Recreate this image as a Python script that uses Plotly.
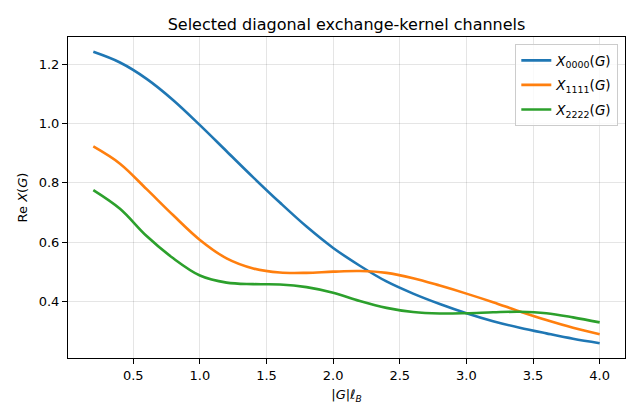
import plotly.graph_objects as go

x_vals = [0.2, 0.4, 0.6, 0.8, 1.0, 1.2, 1.4, 1.6, 1.8, 2.0, 2.2, 2.4, 2.6, 2.8, 3.0, 3.2, 3.4, 3.6, 3.8, 4.0]
x0000 = [1.241, 1.205, 1.150, 1.078, 0.994, 0.906, 0.818, 0.733, 0.652, 0.580, 0.520, 0.467, 0.426, 0.391, 0.360, 0.333, 0.311, 0.292, 0.274, 0.259]
x1111 = [0.922, 0.864, 0.778, 0.690, 0.607, 0.545, 0.511, 0.497, 0.496, 0.500, 0.502, 0.496, 0.478, 0.453, 0.426, 0.397, 0.366, 0.337, 0.311, 0.289]
x2222 = [0.775, 0.712, 0.620, 0.545, 0.487, 0.463, 0.458, 0.457, 0.448, 0.429, 0.401, 0.378, 0.364, 0.359, 0.360, 0.363, 0.365, 0.360, 0.346, 0.329]

names = ["<i>X</i><sub>0000</sub>(<i>G</i>)", "<i>X</i><sub>1111</sub>(<i>G</i>)", "<i>X</i><sub>2222</sub>(<i>G</i>)"]
colors = ["#1f77b4", "#ff7f0e", "#2ca02c"]

fig = go.Figure()
for i, (ys, nm, c) in enumerate(zip([x0000, x1111, x2222], names, colors)):
    fig.add_trace(go.Scatter(x=x_vals, y=ys, mode="lines", name=nm, legendgroup=f"g{i}",
                             line=dict(color=c, width=2.6, shape="spline", smoothing=1.0)))

axis_common = dict(showline=True, linecolor="black", linewidth=1, mirror=True,
                   ticks="outside", ticklen=5, tickcolor="black",
                   showgrid=True, gridcolor="rgba(0,0,0,0.1)", gridwidth=1,
                   zeroline=False, tickfont=dict(size=13, color="black"),
                   tickformat=".1f")

fig.update_layout(
    width=640, height=420,
    margin=dict(l=68, r=15, t=37, b=62),
    paper_bgcolor="white", plot_bgcolor="white",
    font=dict(family="DejaVu Sans", color="black"),
    title=dict(text="Selected diagonal exchange-kernel channels", x=0.5, xanchor="center",
               xref="paper", y=0.943, yanchor="middle", font=dict(size=16)),
    xaxis=dict(range=[0.01, 4.19], tickvals=[0.5, 1.0, 1.5, 2.0, 2.5, 3.0, 3.5, 4.0],
               title=dict(text="|<i>G</i>|<i>ℓ</i><sub><i>B</i></sub>", font=dict(size=13), standoff=8),
               **axis_common),
    yaxis=dict(range=[0.209, 1.291], tickvals=[0.4, 0.6, 0.8, 1.0, 1.2],
               title=dict(text="Re <i>X</i>(<i>G</i>)", font=dict(size=13), standoff=8),
               **axis_common),
    legend=dict(x=0.988, xanchor="right", y=0.978, yanchor="top",
                bordercolor="#cccccc", borderwidth=1, bgcolor="rgba(255,255,255,0.8)",
                font=dict(size=13.5), itemwidth=30, tracegroupgap=4),
    showlegend=True,
)

fig.write_html("out.html")
